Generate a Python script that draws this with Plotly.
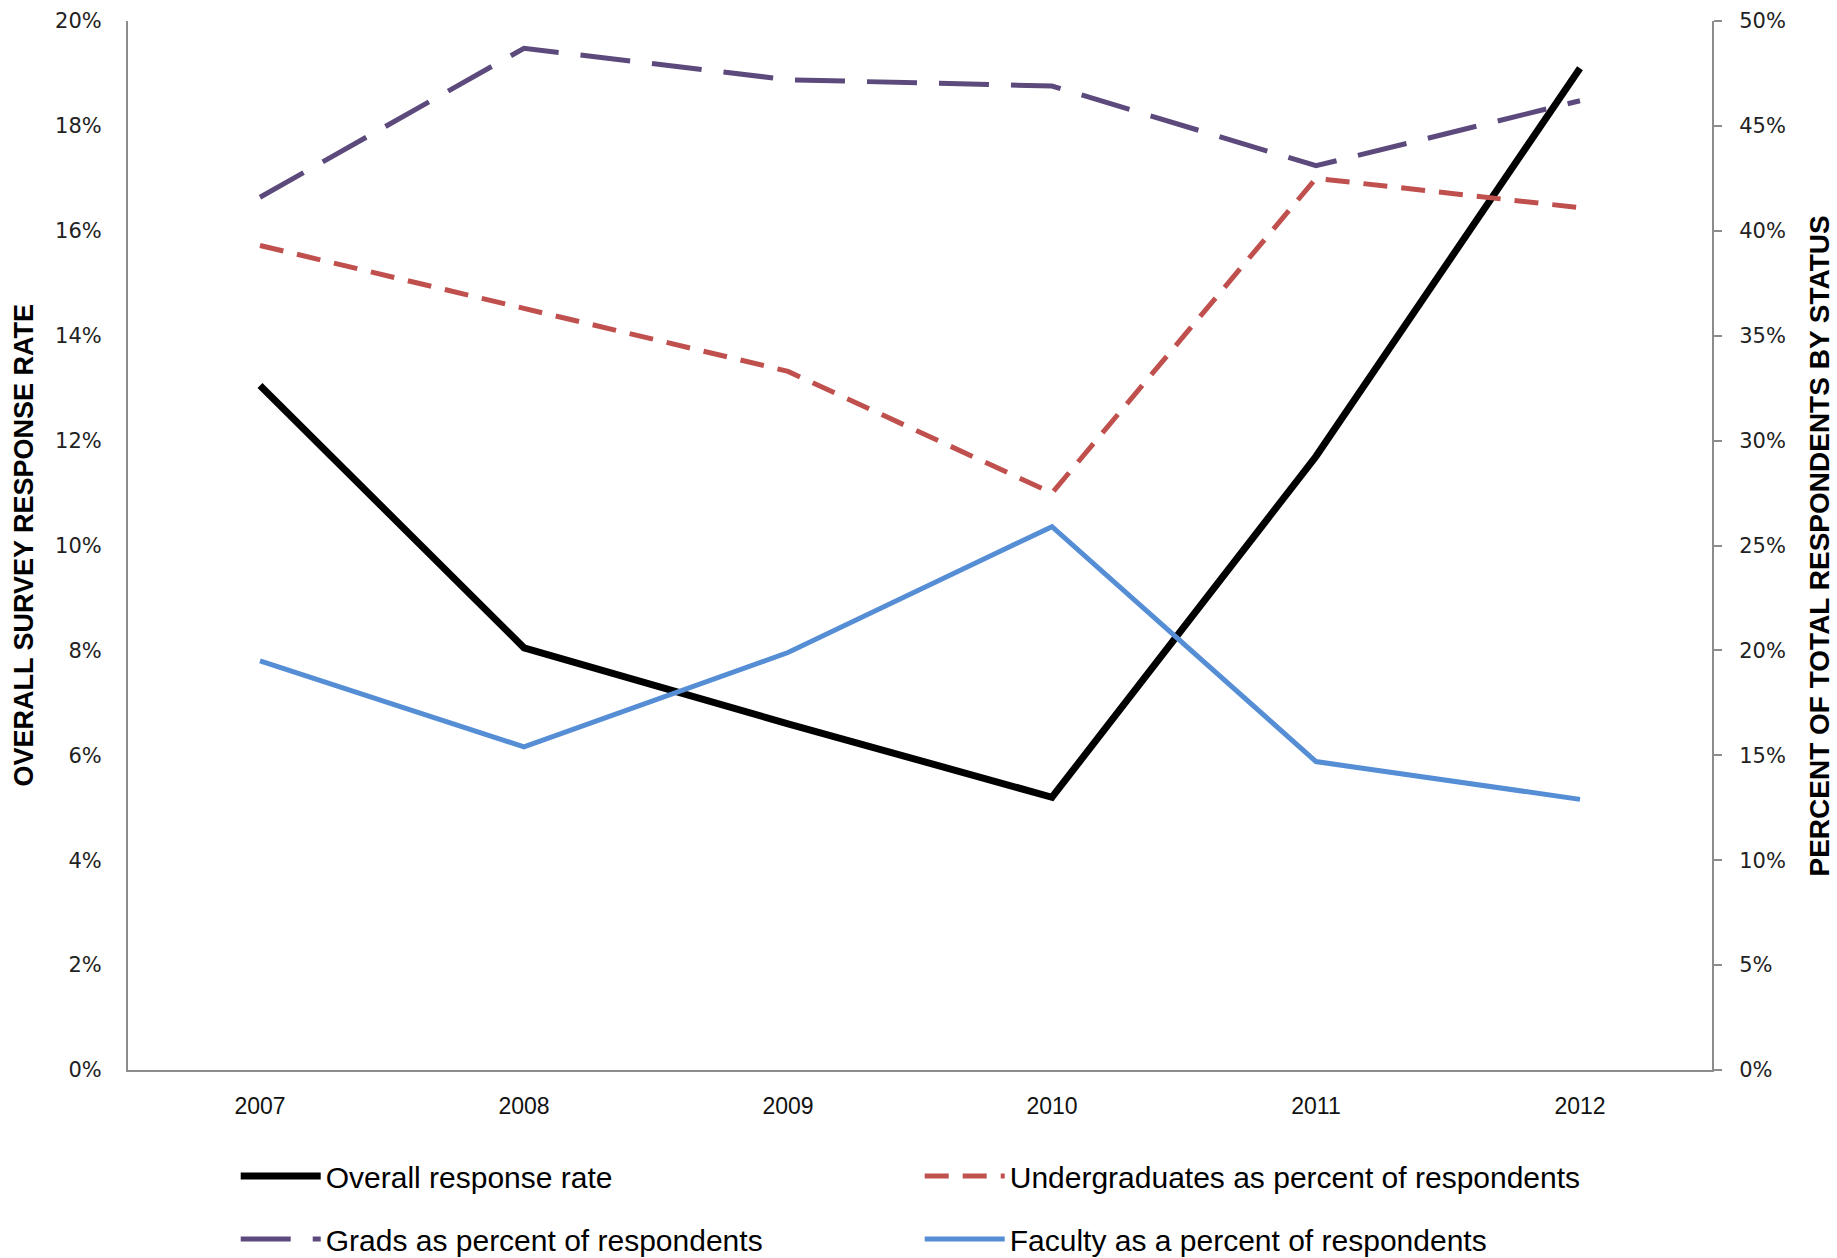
import plotly.graph_objects as go

# Survey years and series (percent values)
years = ["2007", "2008", "2009", "2010", "2011", "2012"]
overall_rate = [13.05, 8.05, 6.6, 5.2, 11.7, 19.1]
undergrad_pct = [39.3, 36.3, 33.3, 27.5, 42.5, 41.1]
grad_pct = [41.6, 48.7, 47.2, 46.9, 43.1, 46.2]
faculty_pct = [19.5, 15.4, 19.9, 25.9, 14.7, 12.9]

left_ticks = [0, 2, 4, 6, 8, 10, 12, 14, 16, 18, 20]
right_ticks = [0, 5, 10, 15, 20, 25, 30, 35, 40, 45, 50]

W, H = 1837, 1258
L, R, T, B = 128, 125, 21, 188

fig = go.Figure()

fig.add_trace(go.Scatter(
    x=years, y=overall_rate, mode="lines", name="Overall response rate",
    line=dict(color="#000000", width=7), yaxis="y", legend="legend",
))
fig.add_trace(go.Scatter(
    x=years, y=undergrad_pct, mode="lines", name="Undergraduates as percent of respondents",
    line=dict(color="#C0504D", width=5, dash="24px,14px"), yaxis="y2", legend="legend",
))
fig.add_trace(go.Scatter(
    x=years, y=grad_pct, mode="lines", name="Grads as percent of respondents",
    line=dict(color="#5C4A7D", width=5, dash="50px,22px"), yaxis="y2", legend="legend2",
))
fig.add_trace(go.Scatter(
    x=years, y=faculty_pct, mode="lines", name="Faculty as a percent of respondents",
    line=dict(color="#558ED5", width=5), yaxis="y2", legend="legend2",
))

tick_font = dict(family="DejaVu Sans", size=21, color="#222222")
left_title_font = dict(family="Liberation Sans, Arial, sans-serif", size=27, color="#000000")
right_title_font = dict(family="Liberation Sans, Arial, sans-serif", size=28, color="#000000")
legend_font = dict(family="Liberation Sans, Arial, sans-serif", size=30, color="#000000")

legend_common = dict(
    orientation="h", x=0.068, xanchor="left", yanchor="middle",
    entrywidth=589, entrywidthmode="pixels", itemwidth=80,
    traceorder="normal", font=legend_font, bgcolor="rgba(0,0,0,0)",
)

fig.update_layout(
    width=W, height=H,
    margin=dict(l=L, r=R, t=T, b=B, autoexpand=False),
    paper_bgcolor="white", plot_bgcolor="white",
    showlegend=True,
    xaxis=dict(
        type="category", range=[-0.5, 5.5],
        showgrid=False, zeroline=False,
        showline=True, linecolor="#8c8c8c", linewidth=2,
        ticks="", ticklabelstandoff=14,
        tickfont=dict(family="Liberation Sans, Arial, sans-serif", size=23, color="#111111"),
    ),
    yaxis=dict(
        range=[0, 20], tickvals=left_ticks,
        ticktext=[f"{v}%" for v in left_ticks],
        showgrid=False, zeroline=False,
        showline=True, linecolor="#8c8c8c", linewidth=2,
        ticks="", ticklabelstandoff=20, tickfont=tick_font,
    ),
    yaxis2=dict(
        range=[0, 50], tickvals=right_ticks,
        ticktext=[f"{v}%" for v in right_ticks],
        overlaying="y", side="right",
        showgrid=False, zeroline=False,
        showline=True, linecolor="#8c8c8c", linewidth=2,
        ticks="outside", ticklen=8, tickcolor="#8c8c8c", tickwidth=2,
        ticklabelstandoff=13, tickfont=tick_font,
    ),
    legend=dict(y=(H - B - 1176) / (H - T - B), **legend_common),
    legend2=dict(y=(H - B - 1239) / (H - T - B), **legend_common),
    annotations=[
        dict(text="<b>OVERALL SURVEY RESPONSE RATE</b>", xref="paper", yref="paper",
             x=(23 - L) / (W - L - R), y=0.5, xanchor="center", yanchor="middle",
             textangle=-90, showarrow=False, font=left_title_font),
        dict(text="<b>PERCENT OF TOTAL RESPONDENTS BY STATUS</b>", xref="paper", yref="paper",
             x=(1819 - L) / (W - L - R), y=0.5, xanchor="center", yanchor="middle",
             textangle=-90, showarrow=False, font=right_title_font),
    ],
)

fig.write_html("out.html")
